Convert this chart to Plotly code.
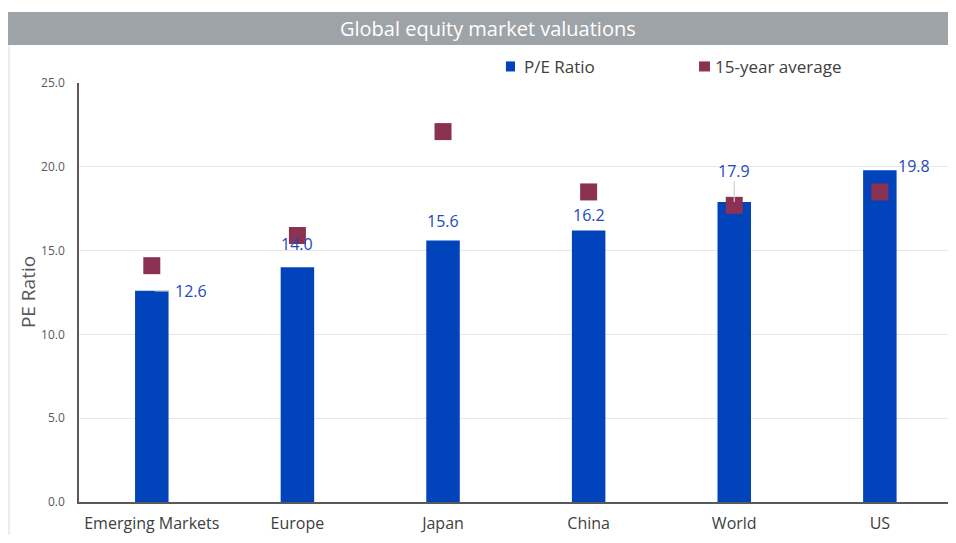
import plotly.graph_objects as go

categories = ["Emerging Markets", "Europe", "Japan", "China", "World", "US"]
pe_ratio = [12.6, 14.0, 15.6, 16.2, 17.9, 19.8]
avg_15y = [14.1, 15.9, 22.1, 18.5, 17.7, 18.5]
y_ticks = [0, 5, 10, 15, 20, 25]
y_tick_labels = ["0.0", "5.0", "10.0", "15.0", "20.0", "25.0"]
series_names = ["P/E Ratio", "15-year average"]

FONT = "Open Sans"
BLUE = "#0043BA"
MAROON = "#8B3252"
LABEL_BLUE = "#2349BF"

fig = go.Figure()
fig.add_trace(go.Bar(
    x=categories, y=pe_ratio, name=series_names[0],
    marker=dict(color=BLUE, line=dict(width=0)),
))
fig.add_trace(go.Scatter(
    x=categories, y=avg_15y, name=series_names[1], mode="markers",
    marker=dict(symbol="square", size=17, color=MAROON),
))

# data labels: (xshift, yshift)
offsets = [(39, 0), (0, 23), (0, 20), (0, 15), (0, 31), (34, 4)]
for c, v, (dx, dy) in zip(categories, pe_ratio, offsets):
    fig.add_annotation(
        x=c, y=v, text=f"{v:.1f}", showarrow=False,
        xshift=dx, yshift=dy,
        font=dict(family=FONT, size=16, color=LABEL_BLUE),
    )

# leader lines
fig.add_annotation(x="World", y=pe_ratio[4], ax=0, ay=-22, text="", showarrow=True,
                   arrowhead=0, arrowwidth=1.2, arrowcolor="#cfcfcf")
fig.add_annotation(x="Emerging Markets", y=pe_ratio[0], xshift=3, ax=16, ay=0, text="",
                   showarrow=True, arrowhead=0, arrowwidth=1.2, arrowcolor="#d9d9d9")

# title bar
fig.add_shape(type="rect", xref="paper", yref="paper",
              x0=-0.09, x1=1.01, y0=1.0907, y1=1.1695,
              fillcolor="#9EA3A8", line=dict(width=0), layer="below")
fig.add_annotation(xref="paper", yref="paper", x=0.4712, y=1.1289,
                   xanchor="center", yanchor="middle",
                   text="Global equity market valuations", showarrow=False,
                   font=dict(family=FONT, size=20, color="white"))
# left border
fig.add_shape(type="line", xref="paper", yref="paper",
              x0=-0.0805, x1=-0.0805, y0=1.0907, y1=-0.2, line=dict(color="#d9d9d9", width=1))

# manual legend
legend_items = [
    (series_names[0], BLUE, 0.4913, 0.5017, 0.5098),
    (series_names[1], MAROON, 0.7135, 0.7261, 0.7296),
]
for name, col, sx0, sx1, tx in legend_items:
    fig.add_shape(type="rect", xref="paper", yref="paper",
                  x0=sx0, x1=sx1, y0=1.0275, y1=1.0515,
                  fillcolor=col, line=dict(width=0))
    fig.add_annotation(xref="paper", yref="paper", x=tx, y=1.0382,
                       xanchor="left", yanchor="middle", text=name, showarrow=False,
                       font=dict(family=FONT, size=17, color="#404040"))

# y-axis title
fig.add_annotation(xref="paper", yref="paper", x=-0.0587, y=0.501,
                   xanchor="center", yanchor="middle", textangle=-90,
                   text="PE Ratio", showarrow=False,
                   font=dict(family=FONT, size=19, color="#595959"))

fig.update_layout(
    width=940, height=527,
    margin=dict(l=71, r=0, t=75, b=33, autoexpand=False),
    paper_bgcolor="white", plot_bgcolor="white",
    bargap=0.77,
    showlegend=False,
    font=dict(family=FONT),
)
fig.update_yaxes(
    range=[0, 25], tickvals=y_ticks, ticktext=y_tick_labels,
    showgrid=True, gridcolor="#E6E6E6", gridwidth=1,
    showline=True, linecolor="#595959", linewidth=1.5,
    ticks="", tickfont=dict(family=FONT, size=12, color="#595959"),
    ticklabelstandoff=10,
    zeroline=False, automargin=False,
)
fig.update_xaxes(
    range=[-0.5, 5.468],
    showline=True, linecolor="#595959", linewidth=1.5,
    ticks="", tickfont=dict(family=FONT, size=16, color="#404040"),
    ticklabelstandoff=6,
    showgrid=False, automargin=False,
)

fig.write_html("out.html")
